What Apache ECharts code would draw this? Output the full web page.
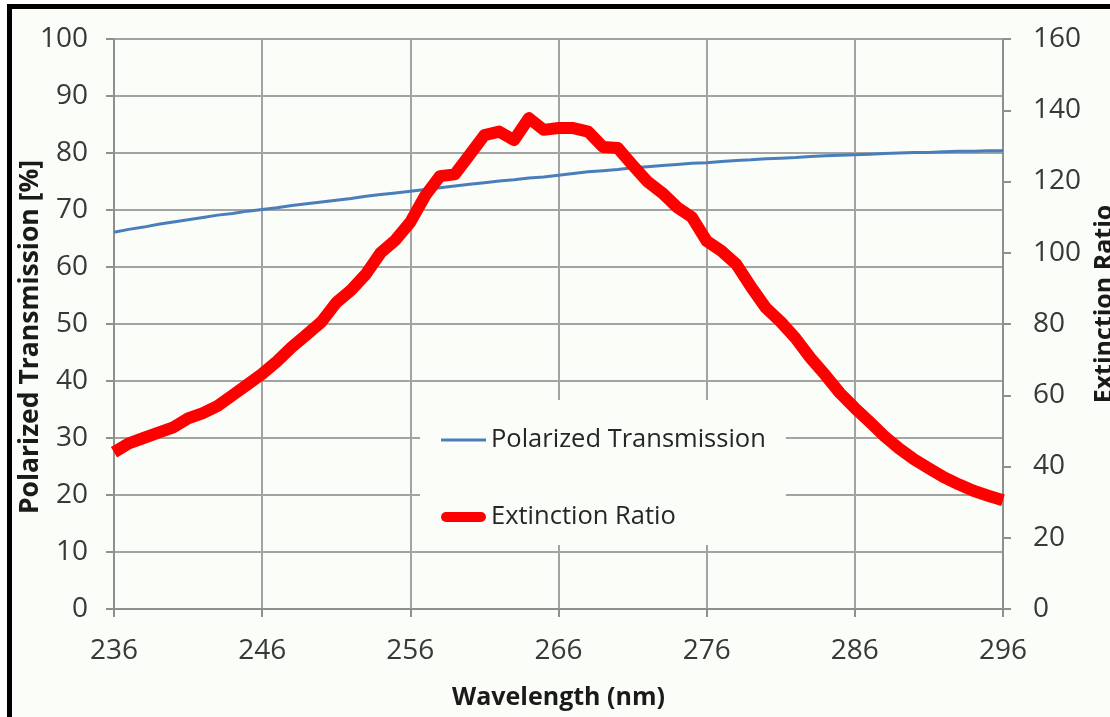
<!DOCTYPE html>
<html>
<head>
<meta charset="utf-8">
<script src="https://cdn.jsdelivr.net/npm/echarts@6/dist/echarts.min.js"></script>
<style>
  html, body { margin: 0; padding: 0; background: #ffffff; }
  #chart { width: 1110px; height: 717px; }
</style>
</head>
<body>
<div id="chart"></div>
<script>
// Wavelength samples (nm), one per nanometre
const wavelengths = [
  236, 237, 238, 239, 240, 241, 242, 243, 244, 245,
  246, 247, 248, 249, 250, 251, 252, 253, 254, 255,
  256, 257, 258, 259, 260, 261, 262, 263, 264, 265,
  266, 267, 268, 269, 270, 271, 272, 273, 274, 275,
  276, 277, 278, 279, 280, 281, 282, 283, 284, 285,
  286, 287, 288, 289, 290, 291, 292, 293, 294, 295,
  296
];

// Polarized transmission [%] (left axis)
const transmission = [
  66.1, 66.6, 67.0, 67.5, 67.9, 68.3, 68.7, 69.1, 69.4, 69.8,
  70.1, 70.4, 70.8, 71.1, 71.4, 71.7, 72.0, 72.4, 72.7, 73.0,
  73.3, 73.6, 73.9, 74.2, 74.5, 74.8, 75.1, 75.3, 75.6, 75.8,
  76.1, 76.4, 76.7, 76.9, 77.1, 77.4, 77.6, 77.8, 78.0, 78.2,
  78.3, 78.5, 78.7, 78.8, 79.0, 79.1, 79.2, 79.4, 79.5, 79.6,
  79.7, 79.8, 79.9, 80.0, 80.1, 80.1, 80.2, 80.3, 80.3, 80.4,
  80.4
];

// Extinction ratio (right axis)
const extinction = [
  44.0, 46.5, 48.0, 49.5, 51.0, 53.5, 55.0, 57.0, 60.0, 63.0,
  66.0, 69.5, 73.5, 77.0, 80.6, 86.0, 89.5, 94.0, 100.0, 103.6,
  108.6, 116.0, 121.5, 122.0, 127.5, 133.0, 134.0, 131.6, 137.8, 134.5,
  135.0, 135.0, 134.0, 129.7, 129.4, 124.6, 120.0, 116.8, 112.8, 110.0,
  103.3, 100.5, 96.8, 90.4, 84.5, 80.6, 76.0, 70.5, 65.7, 60.6,
  56.4, 52.5, 48.5, 45.0, 42.0, 39.5, 37.0, 35.0, 33.2, 31.8,
  30.5
];

const seriesNames = ['Polarized Transmission', 'Extinction Ratio'];
const axisTitles = {
  x: 'Wavelength (nm)',
  left: 'Polarized Transmission [%]',
  right: 'Extinction Ratio'
};

const FONT = '"Open Sans", "Liberation Sans", sans-serif';
const TEXT = '#383838';
const TITLE = '#1a1a1a';
const GRID = '#a3a3a3';
const AXIS = '#8f8f8f';
const BLUE = '#4a7ebb';
const RED = '#ff0000';

const chart = echarts.init(document.getElementById('chart'), null, { renderer: 'canvas' });

chart.setOption({
  backgroundColor: '#fafdf8',
  animation: false,
  textStyle: { fontFamily: FONT },
  graphic: [
    // outer white margin and black frame
    { type: 'rect', left: 0, top: 0, shape: { width: 7, height: 717 }, style: { fill: '#ffffff' }, z: 100 },
    { type: 'rect', left: 0, top: 0, shape: { width: 1110, height: 4 }, style: { fill: '#ffffff' }, z: 100 },
    { type: 'rect', left: 7, top: 4, shape: { width: 5, height: 713 }, style: { fill: '#000000' }, z: 101 },
    { type: 'rect', left: 7, top: 4, shape: { width: 1103, height: 5 }, style: { fill: '#000000' }, z: 101 }
  ],
  grid: { left: 114, right: 107, top: 39, bottom: 108, containLabel: false, outerBoundsMode: 'none' },
  legend: {
    orient: 'vertical',
    left: 420,
    top: 400,
    padding: [27, 20, 15, 21],
    itemGap: 51,
    itemWidth: 45,
    itemHeight: 14,
    backgroundColor: '#fafdf8',
    textStyle: { fontFamily: FONT, fontSize: 25.5, color: '#262626', lineHeight: 26 },
    data: [
      { name: seriesNames[0], icon: 'path://M0,0H45V3H0Z', itemStyle: { color: BLUE } },
      { name: seriesNames[1], icon: 'path://M5,0H40A5,5 0 0 1 40,10H5A5,5 0 0 1 5,0Z', itemStyle: { color: RED } }
    ]
  },
  xAxis: {
    type: 'category',
    data: wavelengths.map(String),
    boundaryGap: false,
    name: axisTitles.x,
    nameLocation: 'middle',
    nameGap: 76,
    nameTextStyle: { fontFamily: FONT, fontSize: 25, fontWeight: 'bold', color: TITLE },
    axisLine: { show: true, lineStyle: { color: AXIS, width: 2 } },
    axisTick: { show: true, interval: 9, length: 8, lineStyle: { color: AXIS, width: 2 } },
    axisLabel: { interval: 9, margin: 28, fontFamily: FONT, fontSize: 28, color: TEXT },
    splitLine: { show: true, interval: 9, lineStyle: { color: GRID, width: 2 } }
  },
  yAxis: [
    {
      type: 'value',
      min: 0, max: 100, interval: 10,
      position: 'left',
      name: axisTitles.left,
      nameLocation: 'middle',
      nameRotate: 90,
      nameGap: 70,
      nameMoveOverlap: false,
      nameTextStyle: { fontFamily: FONT, fontSize: 26.5, fontWeight: 'bold', color: TITLE, padding: [0, 26, 0, 0] },
      axisLine: { show: true, lineStyle: { color: AXIS, width: 2 } },
      axisTick: { show: true, length: 8, lineStyle: { color: AXIS, width: 2 } },
      axisLabel: { margin: 26, fontFamily: FONT, fontSize: 28, color: TEXT },
      splitLine: { show: true, lineStyle: { color: GRID, width: 2 } }
    },
    {
      type: 'value',
      min: 0, max: 160, interval: 20,
      position: 'right',
      name: axisTitles.right,
      nameLocation: 'middle',
      nameRotate: 90,
      nameGap: 85,
      nameTextStyle: { fontFamily: FONT, fontSize: 25, fontWeight: 'bold', color: TITLE, padding: [0, 0, 0, 40] },
      axisLine: { show: true, lineStyle: { color: AXIS, width: 2 } },
      axisTick: { show: true, length: 8, lineStyle: { color: AXIS, width: 2 } },
      axisLabel: { margin: 30, fontFamily: FONT, fontSize: 28, color: TEXT },
      splitLine: { show: false }
    }
  ],
  series: [
    {
      name: seriesNames[0],
      type: 'line',
      yAxisIndex: 0,
      data: transmission,
      symbol: 'none',
      lineStyle: { color: BLUE, width: 3 },
      itemStyle: { color: BLUE },
      z: 3
    },
    {
      name: seriesNames[1],
      type: 'line',
      yAxisIndex: 1,
      data: extinction,
      symbol: 'none',
      lineStyle: { color: RED, width: 12, join: 'round', cap: 'butt' },
      itemStyle: { color: RED },
      z: 4
    }
  ]
});
</script>
</body>
</html>
